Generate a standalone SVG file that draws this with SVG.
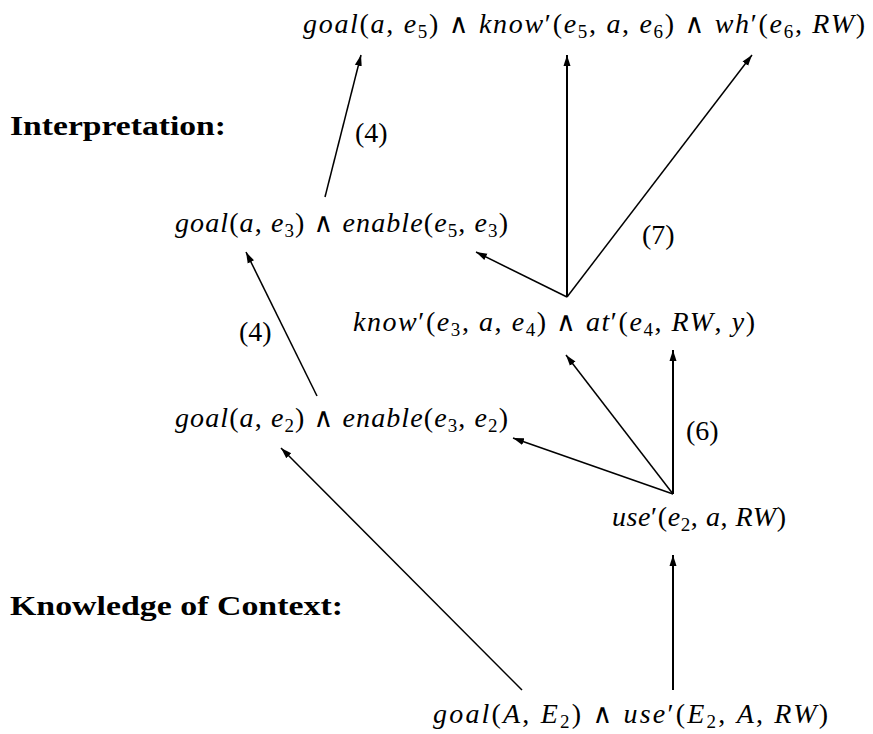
<svg xmlns="http://www.w3.org/2000/svg" width="873" height="734" viewBox="0 0 873 734">
<style>
.m{font-family:"Liberation Serif","DejaVu Serif",serif;font-size:28px;font-style:italic;fill:#000}
.r{font-style:normal}
.w{font-style:normal;font-family:"DejaVu Serif",serif;font-size:27px}
.s{font-style:normal;font-size:19px}
.h{font-family:"Liberation Serif","DejaVu Serif",serif;font-size:27px;font-weight:bold;fill:#000}
.n{font-family:"Liberation Serif","DejaVu Serif",serif;font-size:28px;fill:#000}
.c{stroke:#000;stroke-width:1.5;fill:none;marker-end:url(#ah)}
.v{stroke-width:2}
</style>
<defs>
<marker id="ah" markerUnits="userSpaceOnUse" markerWidth="12" markerHeight="10" viewBox="0 0 12 10" refX="11" refY="5" orient="auto">
<path d="M0,1.5 L11,5 L0,8.5 Z" fill="#000"/>
</marker>
</defs>
<g id="labels">
<text class="h" x="10" y="135" textLength="216" lengthAdjust="spacingAndGlyphs">Interpretation:</text>
<text class="h" x="10" y="615" textLength="333" lengthAdjust="spacingAndGlyphs">Knowledge of Context:</text>
</g>
<g id="n1"><text class="m" x="303" y="33" textLength="562">goal<tspan class="r">(</tspan>a<tspan class="r">, </tspan>e<tspan class="s" dy="5">5</tspan><tspan class="r" dy="-5">)  </tspan><tspan class="w">∧</tspan><tspan class="r"> </tspan>know<tspan class="r">′(</tspan>e<tspan class="s" dy="5">5</tspan><tspan class="r" dy="-5">, </tspan>a<tspan class="r">, </tspan>e<tspan class="s" dy="5">6</tspan><tspan class="r" dy="-5">)  </tspan><tspan class="w">∧</tspan><tspan class="r"> </tspan>wh<tspan class="r">′(</tspan>e<tspan class="s" dy="5">6</tspan><tspan class="r" dy="-5">, </tspan>RW<tspan class="r">)</tspan></text></g>
<g id="n2"><text class="m" x="175" y="232" textLength="333">goal<tspan class="r">(</tspan>a<tspan class="r">, </tspan>e<tspan class="s" dy="5">3</tspan><tspan class="r" dy="-5">)  </tspan><tspan class="w">∧</tspan><tspan class="r"> </tspan>enable<tspan class="r">(</tspan>e<tspan class="s" dy="5">5</tspan><tspan class="r" dy="-5">, </tspan>e<tspan class="s" dy="5">3</tspan><tspan class="r" dy="-5">)</tspan></text></g>
<g id="n3"><text class="m" x="353" y="331" textLength="402">know<tspan class="r">′(</tspan>e<tspan class="s" dy="5">3</tspan><tspan class="r" dy="-5">, </tspan>a<tspan class="r">, </tspan>e<tspan class="s" dy="5">4</tspan><tspan class="r" dy="-5">)  </tspan><tspan class="w">∧</tspan><tspan class="r"> </tspan>at<tspan class="r">′(</tspan>e<tspan class="s" dy="5">4</tspan><tspan class="r" dy="-5">, </tspan>RW<tspan class="r">, </tspan>y<tspan class="r">)</tspan></text></g>
<g id="n4"><text class="m" x="175" y="427" textLength="333">goal<tspan class="r">(</tspan>a<tspan class="r">, </tspan>e<tspan class="s" dy="5">2</tspan><tspan class="r" dy="-5">)  </tspan><tspan class="w">∧</tspan><tspan class="r"> </tspan>enable<tspan class="r">(</tspan>e<tspan class="s" dy="5">3</tspan><tspan class="r" dy="-5">, </tspan>e<tspan class="s" dy="5">2</tspan><tspan class="r" dy="-5">)</tspan></text></g>
<g id="n5"><text class="m" x="612" y="526" textLength="174">use<tspan class="r">′(</tspan>e<tspan class="s" dy="5">2</tspan><tspan class="r" dy="-5">, </tspan>a<tspan class="r">, </tspan>RW<tspan class="r">)</tspan></text></g>
<g id="n6"><text class="m" x="433" y="723" textLength="395">goal<tspan class="r">(</tspan>A<tspan class="r">, </tspan>E<tspan class="s" dy="5">2</tspan><tspan class="r" dy="-5">)  </tspan><tspan class="w">∧</tspan><tspan class="r"> </tspan>use<tspan class="r">′(</tspan>E<tspan class="s" dy="5">2</tspan><tspan class="r" dy="-5">, </tspan>A<tspan class="r">, </tspan>RW<tspan class="r">)</tspan></text></g>
<g id="connectors">
<path class="c" d="M325,197 L361,55"/>
<path class="c v" d="M567,297 L567,55"/>
<path class="c" d="M567,297 L752,55"/>
<path class="c" d="M567,297 L476,252"/>
<path class="c" d="M317,396 L246,252"/>
<path class="c" d="M673,494 L513,438"/>
<path class="c" d="M673,494 L566,355"/>
<path class="c v" d="M673,494 L673,350"/>
<path class="c" d="M522,690 L281,448"/>
<path class="c v" d="M673,690 L673,555"/>
</g>
<g id="edge-labels">
<text class="n" x="355" y="142">(4)</text>
<text class="n" x="642" y="244">(7)</text>
<text class="n" x="239" y="341">(4)</text>
<text class="n" x="686" y="440">(6)</text>
</g>
</svg>
